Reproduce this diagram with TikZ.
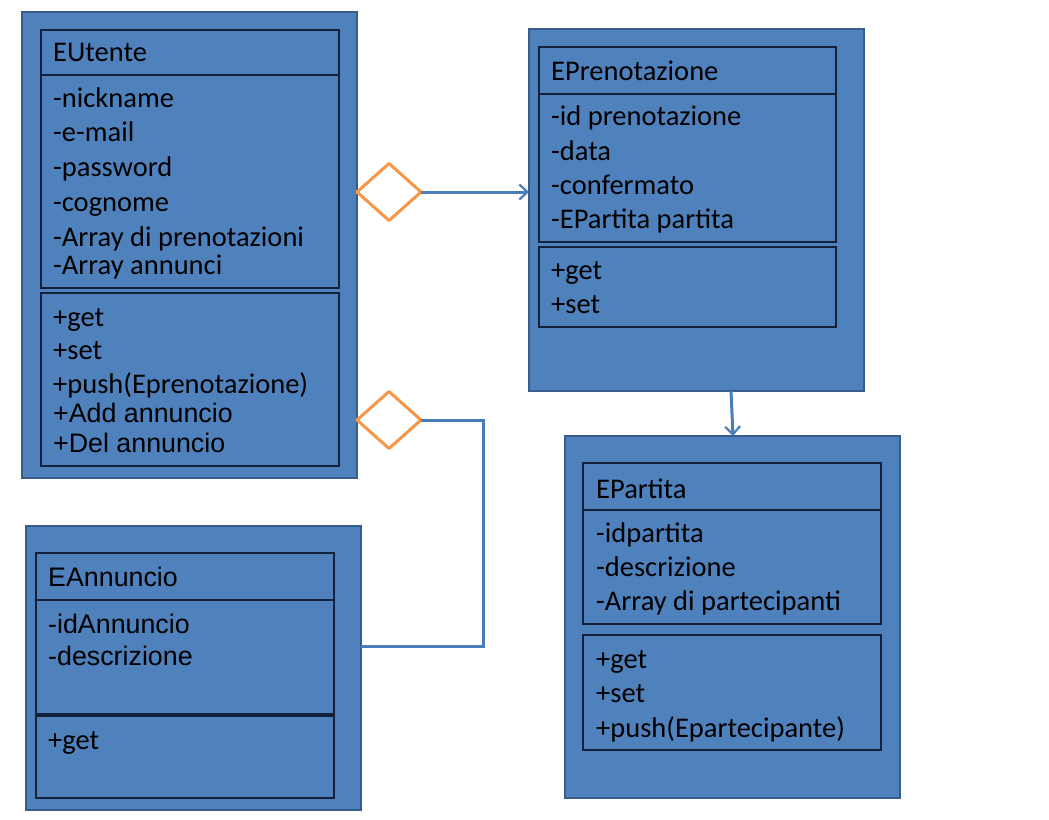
\documentclass[tikz,border=0pt]{standalone}
\usepackage{fontspec}
\setmainfont{Carlito}
\newfontfamily\arialf{Liberation Sans}
\usetikzlibrary{arrows.meta,shapes.geometric}
\definecolor{boxfill}{HTML}{4F81BD}
\definecolor{boxedge}{HTML}{385D8A}
\definecolor{inedge}{HTML}{13213A}
\definecolor{conn}{HTML}{4A7EBB}
\definecolor{agg}{HTML}{F79646}
\begin{document}
\begin{tikzpicture}[x=1pt,y=-1pt,
  outerbox/.style={draw=boxedge, line width=2.5pt, fill=boxfill, inner sep=0pt, outer sep=0pt, anchor=north west},
  inbox/.style={draw=inedge, line width=1.3pt, inner sep=0pt, outer sep=0pt, anchor=north west},
  lbl/.style={anchor=west, inner sep=0pt, yshift=-6pt, font=\fontsize{28.5}{33}\selectfont, text height=0.7em, text depth=0.2em},
  albl/.style={lbl, font=\arialf\fontsize{26.8}{31}\selectfont},
  conline/.style={draw=conn, line width=3pt},
  opentip/.style={-{Straight Barb[length=8pt,width=15pt,line width=2.2pt]}},
  diam/.style={diamond, draw=agg, line width=3pt, fill=white, line join=round, inner sep=0pt, outer sep=0pt, minimum width=64pt, minimum height=57pt}]

\useasboundingbox (0,0) rectangle (1049,819);
\fill[white] (0,0) rectangle (1049,819);

% ---------- EUtente ----------
\node[outerbox, minimum width=335pt, minimum height=466pt] (utente) at (22,12) {};
\node[inbox, minimum width=298pt, minimum height=45pt] (utenteN) at (41,30) {};
\node[inbox, minimum width=298pt, minimum height=213pt] (utenteA) at (41,75) {};
\node[inbox, minimum width=298pt, minimum height=173pt] (utenteM) at (41,293) {};
\node[lbl] (u0) at (53,53) {EUtente};
\node[lbl] (u1) at (53,99) {-nickname};
\node[lbl] (u2) at (53,133) {-e-mail};
\node[lbl] (u3) at (53,168) {-password};
\node[lbl] (u4) at (53,203) {-cognome};
\node[lbl] (u5) at (53,238) {-Array di prenotazioni};
\node[lbl] (u6) at (53,266) {-Array annunci};
\node[lbl] (u7) at (53,318) {+get};
\node[lbl] (u8) at (53,351) {+set};
\node[lbl] (u9) at (53,385) {+push(Eprenotazione)};
\node[albl] (u10) at (53,414) {+Add annuncio};
\node[albl] (u11) at (53,444) {+Del annuncio};

% ---------- EPrenotazione ----------
\node[outerbox, minimum width=335pt, minimum height=362pt] (pren) at (529,29) {};
\node[inbox, minimum width=297pt, minimum height=47pt] (prenN) at (539,47) {};
\node[inbox, minimum width=297pt, minimum height=148pt] (prenA) at (539,94) {};
\node[inbox, minimum width=297pt, minimum height=80pt] (prenM) at (539,247) {};
\node[lbl] (p0) at (551,72) {EPrenotazione};
\node[lbl] (p1) at (551,117) {-id prenotazione};
\node[lbl] (p2) at (551,152) {-data};
\node[lbl] (p3) at (551,186) {-confermato};
\node[lbl] (p4) at (551,220) {-EPartita partita};
\node[lbl] (p5) at (551,271) {+get};
\node[lbl] (p6) at (551,305) {+set};

% ---------- EPartita ----------
\node[outerbox, minimum width=335pt, minimum height=362pt] (partita) at (565,436) {};
\node[inbox, minimum width=298pt, minimum height=47pt] (partN) at (583,463) {};
\node[inbox, minimum width=298pt, minimum height=114pt] (partA) at (583,510) {};
\node[inbox, minimum width=298pt, minimum height=115pt] (partM) at (583,635) {};
\node[lbl] (t0) at (596,490) {EPartita};
\node[lbl] (t1) at (596,534) {-idpartita};
\node[lbl] (t2) at (596,568) {-descrizione};
\node[lbl] (t3) at (596,602) {-Array di partecipanti};
\node[lbl] (t4) at (596,660) {+get};
\node[lbl] (t5) at (596,694) {+set};
\node[lbl] (t6) at (596,729) {+push(Epartecipante)};

% ---------- EAnnuncio ----------
\node[outerbox, minimum width=335pt, minimum height=284pt] (annuncio) at (26,526) {};
\node[inbox, minimum width=298pt, minimum height=47pt] (annN) at (36,553) {};
\node[inbox, minimum width=298pt, minimum height=114pt] (annA) at (36,600) {};
\node[inbox, minimum width=298pt, minimum height=82pt] (annM) at (36,716) {};
\node[albl] (a0) at (48,578) {EAnnuncio};
\node[albl] (a1) at (48,625) {-idAnnuncio};
\node[albl] (a2) at (48,657) {-descrizione};
\node[lbl] (a3) at (48,741) {+get};

% ---------- connectors ----------
\node[diam] (d1) at (389,192) {};
\node[diam] (d2) at (389,420) {};
\draw[conline, opentip] (d1.east) -- (d1.east -| pren.west);
\coordinate (bend) at (483,646);
\draw[conline] (d2.east) -| (bend) -- (bend -| annuncio.east);
\draw[conline, opentip] ([xshift=34.5pt]pren.south) -- ([xshift=0.5pt]partita.north);
\end{tikzpicture}
\end{document}
